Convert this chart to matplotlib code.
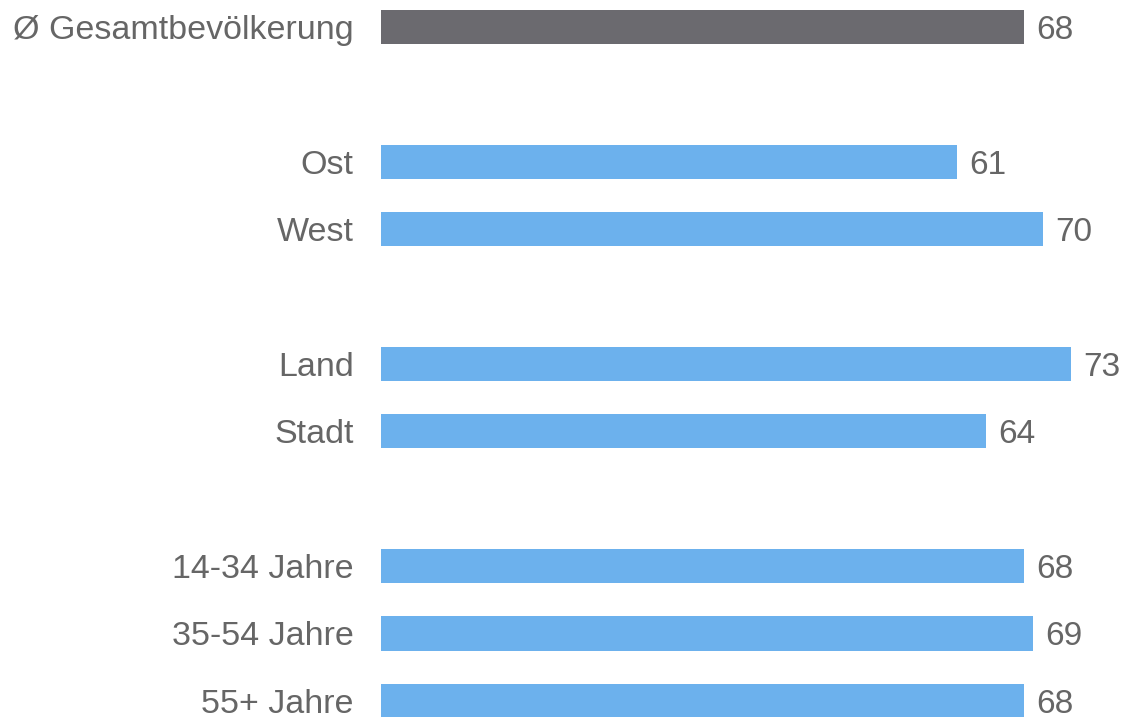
import matplotlib
matplotlib.use('Agg')
import matplotlib.pyplot as plt

# Daten
labels = ['Ø Gesamtbevölkerung', 'Ost', 'West', 'Land', 'Stadt',
          '14-34 Jahre', '35-54 Jahre', '55+ Jahre']
values = [68, 61, 70, 73, 64, 68, 69, 68]
positions = [0, 2, 3, 5, 6, 8, 9, 10]
colors = ['#6b6a6f'] + ['#6cb1ed'] * 7

text_color = '#666666'
plt.rcParams['font.family'] = ['Liberation Sans', 'DejaVu Sans']

fig = plt.figure(figsize=(11.24, 7.17), dpi=100)
ax = fig.add_axes([381 / 1124, 0, 743 / 1124, 1])

ax.barh(positions, values, height=0.51, color=colors)
ax.set_xlim(0, 743 / 9.45)
ax.set_ylim(10.24, -0.40)

for pos, val, lab in zip(positions, values, labels):
    ax.text(val + 1.3, pos + 0.05, str(val), va='center', ha='left',
            fontsize=24, color=text_color)
    ax.text(-2.9, pos + 0.05, lab, va='center', ha='right',
            fontsize=24.5, color=text_color)

ax.axis('off')
fig.savefig('out.png', dpi=100)
